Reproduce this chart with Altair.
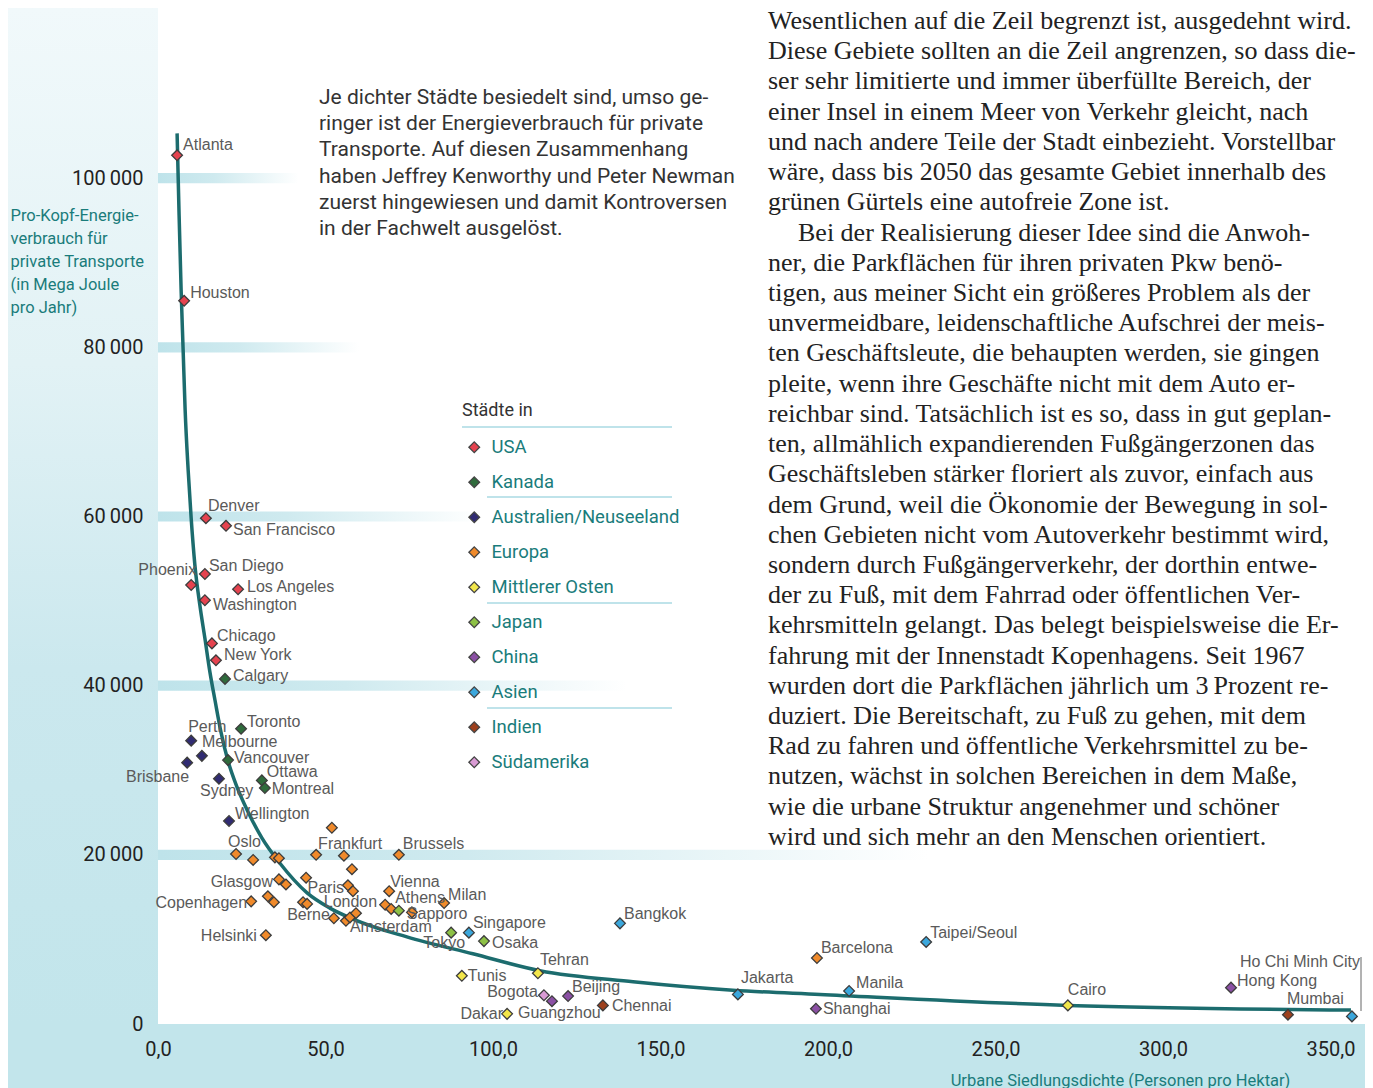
import altair as alt
import pandas as pd

# ------------------------------------------------------------------ data
categories = ["USA", "Kanada", "Australien/Neuseeland", "Europa", "Mittlerer Osten",
              "Japan", "China", "Asien", "Indien", "Südamerika"]
category_colors = ["#e5434f", "#2f6b3c", "#302b72", "#f08a2b", "#f2e64a",
                   "#8dc145", "#8b50a4", "#3ba7dc", "#9d401d", "#d99bd4"]

usa_names = ["Atlanta", "Houston", "Denver", "San Francisco", "San Diego", "Phoenix",
             "Los Angeles", "Washington", "Chicago", "New York"]
usa_density = [5.7, 7.8, 14.3, 20.3, 14.0, 9.9, 23.9, 14.0, 16.1, 17.3]
usa_energy = [102700, 85500, 59800, 58900, 53200, 51900, 51400, 50100, 45000, 43000]

can_names = ["Calgary", "Toronto", "Vancouver", "Ottawa", "Montreal"]
can_density = [20.0, 24.8, 20.9, 31.0, 31.9]
can_energy = [40800, 34900, 31200, 28800, 27900]

aus_names = ["Perth", "Melbourne", "Brisbane", "Sydney", "Wellington"]
aus_density = [9.9, 13.1, 8.7, 18.2, 21.2]
aus_energy = [33500, 31700, 30900, 29000, 24000]

eu_names = ["Oslo", "", "", "", "Frankfurt", "", "", "Brussels", "", "Glasgow",
            "", "", "Paris", "", "Vienna", "Copenhagen", "", "", "", "",
            "Berne", "Amsterdam", "", "", "London", "Athens", "", "Milan", "Helsinki", "Barcelona"]
eu_density = [23.3, 28.4, 34.9, 36.1, 47.2, 55.5, 57.9, 71.9, 51.9, 36.1,
              38.2, 44.2, 56.7, 58.2, 69.0, 27.8, 32.8, 34.6, 43.3, 44.5,
              52.5, 56.1, 57.3, 59.1, 67.8, 69.6, 75.8, 85.4, 32.2, 196.7]
eu_energy = [20100, 19400, 19700, 19600, 20000, 19900, 18300, 20000, 23200, 17100,
             16500, 17300, 16400, 15700, 15700, 14500, 15100, 14400, 14400, 14200,
             12500, 12200, 12600, 13100, 14100, 13600, 13200, 14300, 10500, 7800]

me_names = ["Tunis", "Dakar", "Tehran", "Cairo"]
me_density = [90.7, 104.2, 113.4, 271.6]
me_energy = [5700, 1200, 6000, 2200]

jp_names = ["Sapporo", "Tokyo", "Osaka"]
jp_density = [71.9, 87.5, 97.3]
jp_energy = [13400, 10800, 9800]

cn_names = ["Guangzhou", "Beijing", "Shanghai", "Hong Kong"]
cn_density = [117.6, 122.4, 196.4, 320.3]
cn_energy = [2700, 3300, 1800, 4300]

as_names = ["Singapore", "Bangkok", "Jakarta", "Manila", "Taipei/Seoul", "Ho Chi Minh City"]
as_density = [92.8, 137.9, 173.1, 206.3, 229.3, 356.4]
as_energy = [10800, 11900, 3500, 3900, 9700, 900]

in_names = ["Chennai", "Mumbai"]
in_density = [132.8, 337.3]
in_energy = [2200, 1100]

sa_names = ["Bogota"]
sa_density = [115.2]
sa_energy = [3400]

curve_density = [5.7, 6.3, 6.9, 7.5, 8.1, 9.0, 9.9, 11.0, 12.5, 14.0,
                 15.5, 17.0, 18.8, 20.9, 23.6, 26.6, 31.0, 36.4, 44.5, 51.3,
                 58.2, 74.3, 94.0, 114.0, 141.8, 171.6, 197.6, 271.6, 356.1]
curve_energy = [105300, 95600, 86800, 79700, 72600, 65500, 59800, 54300, 49500, 45600,
                41600, 38300, 34500, 31100, 28000, 25300, 22000, 19000, 15500, 13700,
                12400, 10300, 8300, 6300, 5000, 4000, 3500, 2200, 1650]

x_ticks = [0, 50, 100, 150, 200, 250, 300, 350]
y_ticks = [0, 20000, 40000, 60000, 80000, 100000]

y_title_lines = ["Pro-Kopf-Energie-", "verbrauch für", "private Transporte",
                 "(in Mega Joule", "pro Jahr)"]
x_title = "Urbane Siedlungsdichte (Personen pro Hektar)"
legend_title = "Städte in"

caption_lines = ["Je dichter Städte besiedelt sind, umso ge-",
                 "ringer ist der Energieverbrauch für private",
                 "Transporte. Auf diesen Zusammenhang",
                 "haben Jeffrey Kenworthy und Peter Newman",
                 "zuerst hingewiesen und damit Kontroversen",
                 "in der Fachwelt ausgelöst."]

body_par1 = [
    "Wesentlichen auf die Zeil begrenzt ist, ausgedehnt wird.",
    "Diese Gebiete sollten an die Zeil angrenzen, so dass die-",
    "ser sehr limitierte und immer überfüllte Bereich, der",
    "einer Insel in einem Meer von Verkehr gleicht, nach",
    "und nach andere Teile der Stadt einbezieht. Vorstellbar",
    "wäre, dass bis 2050 das gesamte Gebiet innerhalb des",
    "grünen Gürtels eine autofreie Zone ist.",
]
body_par2_first = "Bei der Realisierung dieser Idee sind die Anwoh-"
body_par2 = [
    "ner, die Parkflächen für ihren privaten Pkw benö-",
    "tigen, aus meiner Sicht ein größeres Problem als der",
    "unvermeidbare, leidenschaftliche Aufschrei der meis-",
    "ten Geschäftsleute, die behaupten werden, sie gingen",
    "pleite, wenn ihre Geschäfte nicht mit dem Auto er-",
    "reichbar sind. Tatsächlich ist es so, dass in gut geplan-",
    "ten, allmählich expandierenden Fußgängerzonen das",
    "Geschäftsleben stärker floriert als zuvor, einfach aus",
    "dem Grund, weil die Ökonomie der Bewegung in sol-",
    "chen Gebieten nicht vom Autoverkehr bestimmt wird,",
    "sondern durch Fußgängerverkehr, der dorthin entwe-",
    "der zu Fuß, mit dem Fahrrad oder öffentlichen Ver-",
    "kehrsmitteln gelangt. Das belegt beispielsweise die Er-",
    "fahrung mit der Innenstadt Kopenhagens. Seit 1967",
    "wurden dort die Parkflächen jährlich um 3\u2009Prozent re-",
    "duziert. Die Bereitschaft, zu Fuß zu gehen, mit dem",
    "Rad zu fahren und öffentliche Verkehrsmittel zu be-",
    "nutzen, wächst in solchen Bereichen in dem Maße,",
    "wie die urbane Struktur angenehmer und schöner",
    "wird und sich mehr an den Menschen orientiert.",
]

# ------------------------------------------------------------------ layout / style
label_layout = {  # city: (align, dx px, dy px)
    "Atlanta": ("left", 6, -10), "Houston": ("left", 6, -8), "Denver": ("left", 2, -12),
    "San Francisco": ("left", 7, 4), "San Diego": ("left", 4, -8), "Phoenix": ("right", 5, -15),
    "Los Angeles": ("left", 9, -2), "Washington": ("left", 8, 5), "Chicago": ("left", 5, -7),
    "New York": ("left", 8, -5), "Calgary": ("left", 8, -3), "Toronto": ("left", 6, -7),
    "Vancouver": ("left", 6, -2), "Ottawa": ("left", 5, -8), "Montreal": ("left", 7, 1),
    "Perth": ("left", -3, -14), "Melbourne": ("left", 0, -14), "Brisbane": ("right", 2, 14),
    "Sydney": ("left", -19, 12), "Wellington": ("left", 6, -7), "Oslo": ("left", -8, -12),
    "Frankfurt": ("left", 2, -11), "Brussels": ("left", 4, -11), "Glasgow": ("right", -6, 3),
    "Paris": ("right", -4, 3), "Vienna": ("left", 1, -9), "Copenhagen": ("right", -4, 2),
    "Berne": ("right", -4, -3), "Amsterdam": ("left", 4, 6), "London": ("right", -8, -3),
    "Athens": ("left", 4, -11), "Milan": ("left", 4, -8), "Helsinki": ("right", -9, 1),
    "Barcelona": ("left", 4, -10), "Sapporo": ("left", 8, 3), "Tokyo": ("right", 14, 10),
    "Osaka": ("left", 8, 2), "Singapore": ("left", 4, -10), "Bangkok": ("left", 4, -9),
    "Jakarta": ("left", 3, -16), "Manila": ("left", 7, -8), "Taipei/Seoul": ("left", 4, -9),
    "Ho Chi Minh City": ("right", 8, -54), "Tunis": ("left", 6, 0), "Dakar": ("right", -4, 0),
    "Tehran": ("left", 2, -13), "Cairo": ("left", 0, -15), "Guangzhou": ("left", -34, 12),
    "Beijing": ("left", 4, -9), "Shanghai": ("left", 7, 0), "Hong Kong": ("left", 6, -7),
    "Chennai": ("left", 9, 1), "Mumbai": ("left", -1, -16), "Bogota": ("right", -6, -3),
}
band_end = {20000: 230, 40000: 140, 60000: 96, 80000: 60, 100000: 42}
BAND_HALF = 600

TEAL = "#1a7c7b"
COND = "Roboto, sans-serif"
LABEL_FONT = "Liberation Sans, Arial, sans-serif"
SANS = "Roboto, Liberation Sans, sans-serif"
SERIF = "Liberation Serif, DejaVu Serif, serif"
W, H = 1206, 1015
X_MAX, Y_MAX = 360, 120000
BODY_FS, BODY_LH = 26, 30.22

# ------------------------------------------------------------------ tables
groups = [("USA", usa_names, usa_density, usa_energy),
          ("Kanada", can_names, can_density, can_energy),
          ("Australien/Neuseeland", aus_names, aus_density, aus_energy),
          ("Europa", eu_names, eu_density, eu_energy),
          ("Mittlerer Osten", me_names, me_density, me_energy),
          ("Japan", jp_names, jp_density, jp_energy),
          ("China", cn_names, cn_density, cn_energy),
          ("Asien", as_names, as_density, as_energy),
          ("Indien", in_names, in_density, in_energy),
          ("Südamerika", sa_names, sa_density, sa_energy)]
rows = []
for cat, names, xs, ys in groups:
    for n, xv, yv in zip(names, xs, ys):
        rows.append({"region": cat, "city": n, "x": xv, "y": yv})
df = pd.DataFrame(rows)

lab = df[df["city"] != ""].copy()
lab["align"] = lab["city"].map(lambda c: label_layout[c][0])
lab["dx"] = lab["city"].map(lambda c: label_layout[c][1])
lab["dy"] = lab["city"].map(lambda c: label_layout[c][2])

curve = pd.DataFrame({"x": curve_density, "y": curve_energy})
bands = pd.DataFrame({"x": [0] * 5, "x2": [band_end[v] for v in y_ticks[1:]],
                      "y": [v - BAND_HALF for v in y_ticks[1:]],
                      "y2": [v + BAND_HALF for v in y_ticks[1:]]})
one = pd.DataFrame({"k": [0]})

# ------------------------------------------------------------------ encodings
XSC = alt.Scale(domain=[0, X_MAX], nice=False, zero=False)
YSC = alt.Scale(domain=[0, Y_MAX], nice=False, zero=False)
x_axis = alt.Axis(values=x_ticks, labelExpr="replace(format(datum.value, '.1f'), '.', ',')",
                  domain=False, ticks=False, grid=False, labelFont=COND, labelFontSize=20,
                  labelColor="#222", labelPadding=15, labelFlush=False, zindex=1,
                  title=x_title, titleFont=COND, titleFontSize=16.5, titleFontWeight="normal",
                  titleColor=TEAL, titleX=962, titleY=48, titleAlign="center",
                  titleBaseline="top", titleAnchor="start")
y_axis = alt.Axis(values=y_ticks, labelExpr="replace(format(datum.value, ','), ',', '\u2009')",
                  domain=False, ticks=False, grid=False, labelFont=COND, labelFontSize=20,
                  labelColor="#222", labelPadding=15, labelFlush=False, zindex=1,
                  title=y_title_lines, titleFont=COND, titleFontSize=16.5, titleFontWeight="normal",
                  titleColor=TEAL, titleX=-148, titleY=198, titleAngle=0, titleAlign="left",
                  titleBaseline="top", titleLineHeight=23, titleAnchor="start")


def X(f="x"):
    return alt.X(f"{f}:Q", scale=XSC, axis=x_axis)


def Y(f="y"):
    return alt.Y(f"{f}:Q", scale=YSC, axis=y_axis)


def grad(stops, vertical=False):
    return alt.LinearGradient(gradient="linear",
                              stops=[alt.GradientStop(color=c, offset=o) for o, c in stops],
                              x1=0, y1=0, x2=0 if vertical else 1, y2=1 if vertical else 0)


# ------------------------------------------------------------------ layers
left_panel = alt.Chart(one).mark_rect(
    fill=grad([(0, "#f1f9fb"), (0.35, "#e2f2f5"), (0.65, "#cbe8ee"), (1, "#c2e5eb")], vertical=True)
).encode(x=alt.value(-150), x2=alt.value(0), y=alt.value(-1), y2=alt.value(H))

bottom_strip = alt.Chart(one).mark_rect(fill="#c2e5eb").encode(
    x=alt.value(-150), x2=alt.value(W + 10), y=alt.value(H), y2=alt.value(H + 80))

band_layer = alt.Chart(bands).mark_rect(
    fill=grad([(0, "#bee3ea"), (0.4, "#cfeaef"), (1, "#ffffff")])
).encode(x=X(), x2="x2:Q", y=Y(), y2="y2:Q")

curve_layer = alt.Chart(curve).mark_line(color="#1c6c6e", strokeWidth=3.5,
                                         interpolate="monotone").encode(x=X(), y=Y())

points = alt.Chart(df).mark_point(shape="diamond", filled=True, size=115, stroke="#3c3c3c",
                                  strokeWidth=1.3, opacity=1).encode(
    x=X(), y=Y(),
    color=alt.Color("region:N", scale=alt.Scale(domain=categories, range=category_colors),
                    legend=alt.Legend(orient="none", legendX=304, legendY=393, title=legend_title,
                                      titleFont=COND, titleFontSize=18, titleFontWeight="normal",
                                      titleColor="#333", titlePadding=18, titleAnchor="start",
                                      labelFont=COND, labelFontSize=18.5, labelColor=TEAL,
                                      symbolType="diamond", symbolSize=115,
                                      symbolStrokeColor="#444", symbolStrokeWidth=1.3,
                                      symbolOpacity=1, symbolOffset=3, labelOffset=8,
                                      rowPadding=16, padding=0, labelLimit=400,
                                      direction="vertical", zindex=1)),
)

label_layers = []
for a in ["left", "right"]:
    label_layers.append(
        alt.Chart(lab[lab["align"] == a]).transform_calculate(
            lx=f"datum.x + datum.dx * {X_MAX / W}",
            ly=f"datum.y - datum.dy * {Y_MAX / H}",
        ).mark_text(
            align=a, baseline="middle", font=LABEL_FONT, fontSize=16, color="#5a5a5a"
        ).encode(x=X("lx"), y=Y("ly"), text="city:N")
    )

leader = alt.Chart(one).mark_rule(color="#666", strokeWidth=1).encode(
    x=alt.value(1361 - 158), y=alt.value(957 - 9), y2=alt.value(1011 - 9))

seps = [alt.Chart(one).mark_rule(color="#bfe3ea", strokeWidth=2).encode(
    x=alt.value(x0), x2=alt.value(514), y=alt.value(yy))
    for x0, yy in [(304, 418), (329, 488), (329, 594), (329, 699)]]

caption = alt.Chart(one).mark_text(
    text=caption_lines, align="left", baseline="top", font=SANS, fontSize=21,
    lineHeight=26.2, color="#333"
).encode(x=alt.value(161), y=alt.value(78))

body_top = -1
body1 = alt.Chart(one).mark_text(
    text=body_par1, align="left", baseline="top", font=SERIF, fontSize=BODY_FS,
    lineHeight=BODY_LH, color="#222"
).encode(x=alt.value(610), y=alt.value(body_top))
body2a = alt.Chart(one).mark_text(
    text=body_par2_first, align="left", baseline="top", font=SERIF, fontSize=BODY_FS,
    color="#222"
).encode(x=alt.value(640), y=alt.value(body_top + 7 * BODY_LH))
body2 = alt.Chart(one).mark_text(
    text=body_par2, align="left", baseline="top", font=SERIF, fontSize=BODY_FS,
    lineHeight=BODY_LH, color="#222"
).encode(x=alt.value(610), y=alt.value(body_top + 8 * BODY_LH))

chart = alt.layer(
    left_panel, bottom_strip, band_layer, curve_layer, points, *label_layers, leader,
    *seps, caption, body1, body2a, body2
).properties(
    width=W, height=H,
    padding={"left": 150, "top": 1, "right": 1, "bottom": 64},
    autosize=alt.AutoSizeParams(type="none"),
).configure_view(strokeWidth=0)

chart.save("out.html", embed_options={"renderer": "svg", "actions": False})
